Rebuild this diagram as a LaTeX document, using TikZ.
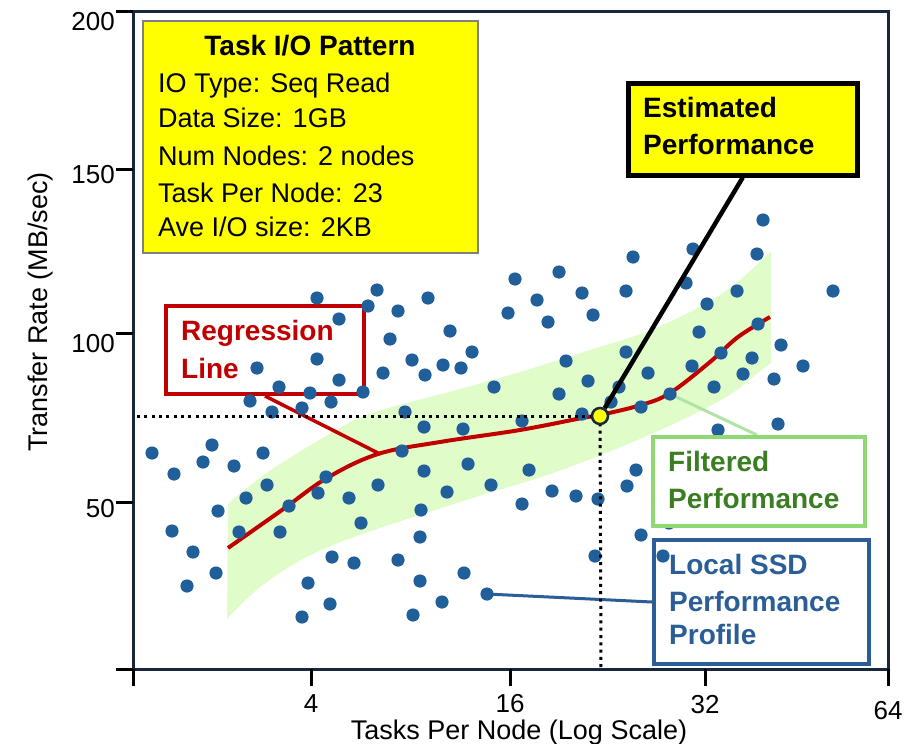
\documentclass[tikz,border=0pt]{standalone}
\usepackage{fontspec}
\setmainfont{Liberation Sans}
\definecolor{framec}{HTML}{17273D}
\definecolor{dotc}{HTML}{215F9B}
\definecolor{bandc}{HTML}{E0FCC9}
\definecolor{regc}{HTML}{C00000}
\definecolor{filtc}{HTML}{8ED973}
\definecolor{filttext}{HTML}{3A7D22}
\definecolor{filtline}{HTML}{B1E3A6}
\definecolor{ssdc}{HTML}{2B5E97}
\definecolor{noteyellow}{HTML}{FFFF00}
\definecolor{notegray}{HTML}{808080}
\begin{document}
\begin{tikzpicture}[x=1pt,y=-1pt,
  body/.style={font=\fontsize{27}{32}\selectfont, inner sep=0pt, anchor=base west},
  lbl/.style={font=\bfseries\fontsize{28}{34}\selectfont, inner sep=0pt, anchor=base west},
  tickmark/.style={line width=3pt, black},
  ticklbl/.style={font=\fontsize{26}{30}\selectfont, inner sep=0pt},
  callout/.style={rectangle, inner sep=0pt, anchor=north west},
  guide/.style={black, line width=3pt, dash pattern=on 3pt off 4.3pt},
]
\useasboundingbox (0,0) rectangle (916,744);

% confidence band around the fit
\fill[bandc] plot[smooth, tension=0.6] coordinates {(228,504) (268,472) (333,432) (372,413) (460,389) (520,372) (590,350) (656,328) (723,293) (771,251)}
  -- (771,363)
  -- plot[smooth, tension=0.6] coordinates {(771,363) (759,372) (723,399) (649,435) (556,472) (460,502) (333,545) (268,581) (227,619)}
  -- cycle;

% regression curve
\draw[regc, line width=4pt] plot[smooth, tension=0.6] coordinates {(228,548) (282,510) (327,478) (378,454) (440,442) (520,430) (582,418) (600,415) (641,405) (670,393) (710,362) (738,337) (770,317)};

% regression callout
\node[callout, draw=regc, line width=4pt, minimum width=198pt, minimum height=88pt] (regbox) at (164,304) {};
\node[lbl, text=regc] (regtxta) at (181,340) {Regression};
\node[lbl, text=regc] (regtxtb) at (181,378) {Line};
\coordinate (regjoin) at (380,454);
\draw[regc, line width=3.5pt] (regbox.south) -- (regjoin);

% local SSD profile callout
\node[callout, draw=ssdc, fill=white, line width=4pt, minimum width=215pt, minimum height=124pt] (ssdbox) at (652,538) {};
\node[lbl, text=ssdc] (ssdtxta) at (669,574) {Local SSD};
\node[lbl, text=ssdc] (ssdtxtb) at (669,611) {Performance};
\node[lbl, text=ssdc] (ssdtxtc) at (669,644) {Profile};
\coordinate (ssddot) at (487,594);
\draw[ssdc, line width=3pt] (ssddot) -- (ssdbox.west);

% filtered callout leader
\coordinate (filtdot) at (670,394);
\coordinate (filttop) at (757,435);
\draw[filtline, line width=3pt] (filtdot) -- (filttop);

% measured samples
\foreach \p in {(317,298),(317,359),(257,368),(279,387),(310,393),(250,401),(272,412),(302,408),(331,402),
  (377,290),(368,306),(339,319),(398,311),(428,298),(515,279),(508,313),(450,331),(390,339),(412,360),
  (383,373),(425,375),(443,365),(461,368),(472,352),(339,380),(363,392),(405,412),(494,387),
  (559,272),(633,257),(693,249),(537,300),(582,293),(626,291),(548,322),(593,315),(686,283),(707,304),
  (699,332),(566,361),(626,352),(588,381),(648,373),(692,366),(559,394),(619,387),(611,402),(670,394),
  (641,407),(582,414),(714,387),(763,220),(757,254),(737,291),(833,291),(758,324),(781,345),(721,353),
  (752,358),(803,366),(743,374),(774,379),(152,453),(212,445),(203,462),(174,474),(234,466),(263,453),
  (267,485),(246,498),(218,511),(289,506),(326,477),(318,493),(239,532),(280,532),(172,531),(193,552),
  (216,573),(187,586),(308,583),(330,604),(302,617),(424,427),(463,429),(522,421),(402,451),(468,464),
  (424,471),(378,485),(349,498),(447,492),(491,485),(421,510),(361,523),(420,537),(522,504),(332,557),
  (354,563),(398,560),(420,581),(464,573),(487,594),(442,602),(413,615),(529,470),(552,491),(576,496),
  (598,499),(636,470),(627,486),(669,523),(641,535),(595,556),(663,556),(778,424),(718,430)}
  \fill[dotc] \p circle[radius=6.6pt];

% filtered performance callout
\node[callout, draw=filtc, fill=white, line width=4pt, minimum width=212pt, minimum height=89pt] (filtbox) at (651,435) {};
\node[lbl, text=filttext] (filttxta) at (668,471) {Filtered};
\node[lbl, text=filttext] (filttxtb) at (668,508) {Performance};

% guide lines to the axes
\coordinate (estc) at (600,416);
\coordinate (yhit) at (133,416);
\coordinate (xhit) at (601,669);
\draw[guide] (estc) -- (yhit);
\draw[guide] (estc) -- (xhit);

% estimated performance callout
\node[callout, draw=black, fill=noteyellow, line width=4.5pt, minimum width=229pt, minimum height=92pt] (estbox) at (626,81) {};
\node[lbl] (esttxta) at (643,117) {Estimated};
\node[lbl] (esttxtb) at (643,154) {Performance};
\node[circle, fill=noteyellow, draw=framec, line width=2.5pt, minimum size=16pt, inner sep=0pt] (estpt) at (estc) {};
\draw[black, line width=4.5pt] (estbox.south) -- (estpt);

% axes frame and ticks
\draw[framec, line width=3pt] (133,11) rectangle (888,669);
\foreach \y in {11,169,333,502,669} \draw[tickmark] (116,\y) -- (133,\y);
\foreach \x in {133,311,510,705,888} \draw[tickmark] (\x,669) -- (\x,686);
\node[ticklbl, anchor=base east] (ylab200) at (115,30) {200};
\node[ticklbl, anchor=base east] (ylab150) at (115,183) {150};
\node[ticklbl, anchor=base east] (ylab100) at (115,352) {100};
\node[ticklbl, anchor=base east] (ylab50) at (115,517) {50};
\node[ticklbl, anchor=base] (xlab4) at (311,712) {4};
\node[ticklbl, anchor=base] (xlab16) at (510,712) {16};
\node[ticklbl, anchor=base] (xlab32) at (705,713) {32};
\node[ticklbl, anchor=base] (xlab64) at (888,719) {64};
\node[font=\fontsize{27}{32}\selectfont, inner sep=0pt, anchor=base] (xtitle) at (519,739) {Tasks Per Node (Log Scale)};
\node[font=\fontsize{27}{32}\selectfont, inner sep=0pt, anchor=base, rotate=90] (ytitle) at (47,312) {Transfer Rate (MB/sec)};

% workload description
\node[callout, draw=notegray, fill=noteyellow, line width=1.5pt, minimum width=335pt, minimum height=232pt] (taskbox) at (142,20) {};
\node[font=\bfseries\fontsize{28}{34}\selectfont, inner sep=0pt, anchor=base] (tasktitle) at (310,55) {Task I/O Pattern};
\node[body] (taska) at (158,92) {IO Type: Seq Read};
\node[body] (taskb) at (158,127) {Data Size: 1GB};
\node[body] (taskc) at (158,165) {Num Nodes: 2 nodes};
\node[body] (taskd) at (158,202) {Task Per Node: 23};
\node[body] (taske) at (158,236) {Ave I/O size: 2KB};
\end{tikzpicture}
\end{document}
